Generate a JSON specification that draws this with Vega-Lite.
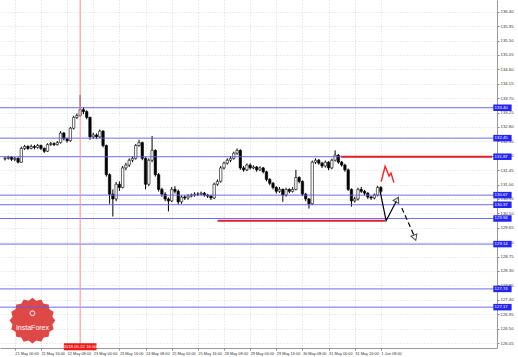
{
  "$schema": "https://vega.github.io/schema/vega-lite/v6.json",
  "width": 497,
  "height": 348,
  "autosize": {"type": "none"},
  "padding": {"left": 0, "top": 0, "right": 21, "bottom": 9},
  "background": "white",
  "config": {"view": {"stroke": null}, "font": "Liberation Sans"},
  "data": {"values": [{}]},
  "resolve": {"axis": {"x": "independent", "y": "independent"}},
  "datasets": {
    "candles": [
      {"t":-6,"o":131.80,"c":131.82,"hi":131.88,"lo":131.75},
      {"t":-4,"o":131.82,"c":131.85,"hi":131.90,"lo":131.78},
      {"t":-2,"o":131.85,"c":131.79,"hi":131.89,"lo":131.74},
      {"t":0,"o":131.79,"c":131.82,"hi":131.86,"lo":131.73},
      {"t":2,"o":131.82,"c":131.70,"hi":131.85,"lo":131.66},
      {"t":4,"o":131.70,"c":132.13,"hi":132.18,"lo":131.68},
      {"t":6,"o":132.13,"c":132.19,"hi":132.24,"lo":132.08},
      {"t":8,"o":132.19,"c":132.13,"hi":132.23,"lo":132.08},
      {"t":10,"o":132.13,"c":132.19,"hi":132.25,"lo":132.10},
      {"t":12,"o":132.19,"c":132.16,"hi":132.24,"lo":132.10},
      {"t":14,"o":132.16,"c":132.22,"hi":132.27,"lo":132.12},
      {"t":16,"o":132.22,"c":132.13,"hi":132.25,"lo":132.08},
      {"t":18,"o":132.13,"c":132.04,"hi":132.16,"lo":131.99},
      {"t":20,"o":132.04,"c":132.25,"hi":132.29,"lo":132.02},
      {"t":22,"o":132.25,"c":132.28,"hi":132.33,"lo":132.21},
      {"t":24,"o":132.28,"c":132.25,"hi":132.32,"lo":132.20},
      {"t":26,"o":132.25,"c":132.31,"hi":132.36,"lo":132.22},
      {"t":28,"o":132.31,"c":132.61,"hi":132.67,"lo":132.28},
      {"t":30,"o":132.61,"c":132.43,"hi":132.64,"lo":132.38},
      {"t":32,"o":132.43,"c":132.37,"hi":132.47,"lo":132.31},
      {"t":34,"o":132.37,"c":132.76,"hi":132.80,"lo":132.34},
      {"t":36,"o":132.76,"c":133.10,"hi":133.15,"lo":132.72},
      {"t":38,"o":133.10,"c":133.16,"hi":133.22,"lo":133.05},
      {"t":40,"o":133.16,"c":133.34,"hi":133.80,"lo":133.12},
      {"t":42,"o":133.34,"c":133.28,"hi":133.42,"lo":133.20},
      {"t":44,"o":133.28,"c":133.10,"hi":133.32,"lo":133.04},
      {"t":46,"o":133.10,"c":132.49,"hi":133.12,"lo":132.40},
      {"t":48,"o":132.49,"c":132.55,"hi":132.62,"lo":132.43},
      {"t":50,"o":132.55,"c":132.49,"hi":132.60,"lo":132.42},
      {"t":52,"o":132.49,"c":132.67,"hi":132.72,"lo":132.45},
      {"t":54,"o":132.67,"c":132.22,"hi":132.70,"lo":132.16},
      {"t":56,"o":132.22,"c":131.31,"hi":132.25,"lo":131.25},
      {"t":58,"o":131.31,"c":130.70,"hi":131.35,"lo":130.40},
      {"t":60,"o":130.70,"c":130.55,"hi":130.85,"lo":130.00},
      {"t":62,"o":130.55,"c":131.01,"hi":131.08,"lo":130.48},
      {"t":64,"o":131.01,"c":130.91,"hi":131.10,"lo":130.80},
      {"t":66,"o":130.91,"c":131.52,"hi":131.58,"lo":130.88},
      {"t":68,"o":131.52,"c":131.61,"hi":131.68,"lo":131.45},
      {"t":70,"o":131.61,"c":131.76,"hi":131.82,"lo":131.55},
      {"t":72,"o":131.76,"c":131.82,"hi":131.88,"lo":131.70},
      {"t":74,"o":131.82,"c":132.22,"hi":132.27,"lo":131.78},
      {"t":76,"o":132.22,"c":132.31,"hi":132.40,"lo":132.18},
      {"t":78,"o":132.31,"c":131.82,"hi":132.34,"lo":131.76},
      {"t":80,"o":131.82,"c":131.01,"hi":131.85,"lo":130.85},
      {"t":82,"o":131.01,"c":131.76,"hi":131.82,"lo":130.95},
      {"t":84,"o":131.76,"c":132.07,"hi":132.52,"lo":131.70},
      {"t":86,"o":132.07,"c":131.31,"hi":132.10,"lo":131.25},
      {"t":88,"o":131.31,"c":130.85,"hi":131.36,"lo":130.78},
      {"t":90,"o":130.85,"c":130.70,"hi":130.90,"lo":130.62},
      {"t":92,"o":130.70,"c":130.55,"hi":130.76,"lo":130.48},
      {"t":94,"o":130.55,"c":130.49,"hi":130.60,"lo":130.16},
      {"t":96,"o":130.49,"c":130.85,"hi":130.92,"lo":130.45},
      {"t":98,"o":130.85,"c":130.79,"hi":130.95,"lo":130.72},
      {"t":100,"o":130.79,"c":130.46,"hi":130.84,"lo":130.38},
      {"t":102,"o":130.46,"c":130.61,"hi":130.66,"lo":130.40},
      {"t":104,"o":130.61,"c":130.58,"hi":130.67,"lo":130.52},
      {"t":106,"o":130.58,"c":130.64,"hi":130.70,"lo":130.53},
      {"t":108,"o":130.64,"c":130.67,"hi":130.72,"lo":130.60},
      {"t":110,"o":130.67,"c":130.70,"hi":130.76,"lo":130.62},
      {"t":112,"o":130.70,"c":130.70,"hi":130.76,"lo":130.64},
      {"t":114,"o":130.70,"c":130.73,"hi":130.78,"lo":130.66},
      {"t":116,"o":130.73,"c":130.67,"hi":130.77,"lo":130.62},
      {"t":118,"o":130.67,"c":130.64,"hi":130.71,"lo":130.58},
      {"t":120,"o":130.64,"c":130.58,"hi":130.68,"lo":130.52},
      {"t":122,"o":130.58,"c":131.01,"hi":131.06,"lo":130.55},
      {"t":124,"o":131.01,"c":131.10,"hi":131.16,"lo":130.96},
      {"t":126,"o":131.10,"c":131.52,"hi":131.58,"lo":131.06},
      {"t":128,"o":131.52,"c":131.67,"hi":131.72,"lo":131.47},
      {"t":130,"o":131.67,"c":131.76,"hi":131.82,"lo":131.62},
      {"t":132,"o":131.76,"c":131.82,"hi":131.88,"lo":131.70},
      {"t":134,"o":131.82,"c":131.98,"hi":132.03,"lo":131.78},
      {"t":136,"o":131.98,"c":132.07,"hi":132.13,"lo":131.93},
      {"t":138,"o":132.07,"c":131.52,"hi":132.10,"lo":131.46},
      {"t":140,"o":131.52,"c":131.46,"hi":131.58,"lo":131.40},
      {"t":142,"o":131.46,"c":131.61,"hi":131.66,"lo":131.42},
      {"t":144,"o":131.61,"c":131.52,"hi":131.66,"lo":131.47},
      {"t":146,"o":131.52,"c":131.55,"hi":131.60,"lo":131.48},
      {"t":148,"o":131.55,"c":131.46,"hi":131.58,"lo":131.40},
      {"t":150,"o":131.46,"c":131.52,"hi":131.57,"lo":131.42},
      {"t":152,"o":131.52,"c":131.40,"hi":131.55,"lo":131.35},
      {"t":154,"o":131.40,"c":131.16,"hi":131.43,"lo":131.10},
      {"t":156,"o":131.16,"c":131.04,"hi":131.20,"lo":130.98},
      {"t":158,"o":131.04,"c":130.91,"hi":131.08,"lo":130.85},
      {"t":160,"o":130.91,"c":130.79,"hi":130.95,"lo":130.72},
      {"t":162,"o":130.79,"c":130.85,"hi":130.92,"lo":130.74},
      {"t":164,"o":130.85,"c":130.67,"hi":130.88,"lo":130.46},
      {"t":166,"o":130.67,"c":130.85,"hi":130.90,"lo":130.62},
      {"t":168,"o":130.85,"c":130.79,"hi":130.88,"lo":130.73},
      {"t":170,"o":130.79,"c":130.85,"hi":130.92,"lo":130.75},
      {"t":172,"o":130.85,"c":131.22,"hi":131.46,"lo":130.82},
      {"t":174,"o":131.22,"c":131.10,"hi":131.26,"lo":131.04},
      {"t":176,"o":131.10,"c":130.70,"hi":131.13,"lo":130.64},
      {"t":178,"o":130.70,"c":130.55,"hi":130.74,"lo":130.48},
      {"t":180,"o":130.55,"c":130.40,"hi":130.58,"lo":130.25},
      {"t":182,"o":130.40,"c":131.70,"hi":131.75,"lo":130.36},
      {"t":184,"o":131.70,"c":131.76,"hi":131.82,"lo":131.64},
      {"t":186,"o":131.76,"c":131.67,"hi":131.80,"lo":131.62},
      {"t":188,"o":131.67,"c":131.58,"hi":131.71,"lo":131.52},
      {"t":190,"o":131.58,"c":131.70,"hi":131.75,"lo":131.53},
      {"t":192,"o":131.70,"c":131.52,"hi":131.73,"lo":131.45},
      {"t":194,"o":131.52,"c":131.76,"hi":131.81,"lo":131.48},
      {"t":196,"o":131.76,"c":131.92,"hi":132.07,"lo":131.72},
      {"t":198,"o":131.92,"c":131.70,"hi":131.95,"lo":131.65},
      {"t":200,"o":131.70,"c":131.61,"hi":131.74,"lo":131.56},
      {"t":202,"o":131.61,"c":131.46,"hi":131.65,"lo":131.40},
      {"t":204,"o":131.46,"c":130.85,"hi":131.50,"lo":130.80},
      {"t":206,"o":130.85,"c":130.49,"hi":130.88,"lo":130.31},
      {"t":208,"o":130.49,"c":130.55,"hi":130.62,"lo":130.44},
      {"t":210,"o":130.55,"c":130.85,"hi":130.90,"lo":130.50},
      {"t":212,"o":130.85,"c":130.79,"hi":130.93,"lo":130.74},
      {"t":214,"o":130.79,"c":130.73,"hi":130.83,"lo":130.66},
      {"t":216,"o":130.73,"c":130.61,"hi":130.76,"lo":130.55},
      {"t":218,"o":130.61,"c":130.58,"hi":130.65,"lo":130.52},
      {"t":220,"o":130.58,"c":130.67,"hi":130.72,"lo":130.54},
      {"t":222,"o":130.67,"c":130.91,"hi":130.96,"lo":130.63},
      {"t":224,"o":130.91,"c":130.79,"hi":130.95,"lo":130.74}
    ],
    "levels": [
      {"p":133.40},{"p":132.45},{"p":131.87},{"p":130.67},{"p":130.37},
      {"p":129.94},{"p":129.14},{"p":127.74},{"p":127.17}
    ],
    "redsegs": [
      {"t":199.7,"t2":292,"p":131.87},
      {"t":124.1,"t2":226.6,"p":129.87}
    ],
    "drawings": [
      {"g":"redN","i":0,"t":224.2,"p":131.09},
      {"g":"redN","i":1,"t":226.6,"p":131.57},
      {"g":"redN","i":2,"t":229.0,"p":131.27},
      {"g":"redN","i":3,"t":230.2,"p":131.36},
      {"g":"redN","i":4,"t":232.0,"p":131.06},
      {"g":"solid","i":0,"t":223.6,"p":130.78},
      {"g":"solid","i":1,"t":227.2,"p":129.87},
      {"g":"solid","i":2,"t":234.4,"p":130.57},
      {"g":"dashed","i":0,"t":236.8,"p":130.27},
      {"g":"dashed","i":1,"t":244.2,"p":129.42}
    ]
  },
  "layer": [
    {
      "data": {"name": "candles"},
      "mark": {"type": "rule", "color": "black", "strokeWidth": 1},
      "encoding": {
        "x": {"field": "t", "type": "quantitative",
          "scale": {"domain": [-6, 292], "nice": false, "zero": false},
          "axis": {"title": null, "orient": "bottom",
            "values": [0,16,32,48,64,80,96,112,128,144,160,176,192,208,224],
            "labelExpr": "['21 May 00:00','21 May 16:00','22 May 08:00','23 May 00:00','23 May 16:00','24 May 08:00','25 May 00:00','25 May 16:00','28 May 08:00','29 May 00:00','29 May 16:00','30 May 08:00','31 May 00:00','31 May 16:00','1 Jun 08:00'][round(datum.value/16)]",
            "labelAlign": "left", "labelFontSize": 3.9, "labelColor": "#333", "labelPadding": 1.5,
            "labelOverlap": false, "labelFlush": false, "labelBound": false,
            "tickSize": 2, "tickColor": "#888", "domainColor": "#999",
            "grid": true, "gridColor": "#cfcfcf", "gridDash": [1, 2], "gridWidth": 0.8}},
        "y": {"field": "lo", "type": "quantitative",
          "scale": {"domain": [126.05, 136.61], "nice": false, "zero": false},
          "axis": {"title": null, "orient": "right",
            "values": [126.05,126.50,126.95,127.40,127.85,128.30,128.75,129.20,129.65,130.10,130.55,131.00,131.45,131.90,132.35,132.80,133.25,133.70,134.15,134.60,135.05,135.50,135.95,136.40],
            "format": ".2f", "labelAlign": "left", "labelFontSize": 4.3, "labelColor": "#333", "labelPadding": 1,
            "labelOverlap": false, "labelFlush": false, "labelBound": false,
            "tickSize": 2, "tickColor": "#888", "domainColor": "#999",
            "grid": true, "gridColor": "#cfcfcf", "gridDash": [1, 2], "gridWidth": 0.8}},
        "y2": {"field": "hi"}
      }
    },
    {
      "data": {"name": "candles"},
      "mark": {"type": "bar", "size": 2.4, "stroke": "black", "strokeWidth": 0.6},
      "encoding": {
        "x": {"field": "t", "type": "quantitative", "axis": null},
        "y": {"field": "o", "type": "quantitative", "axis": null},
        "y2": {"field": "c"},
        "fill": {"condition": {"test": "datum.c >= datum.o", "value": "white"}, "value": "black"}
      }
    },
    {
      "mark": {"type": "point", "shape": "M1,0L0.87,0.17L0.924,0.383L0.74,0.49L0.707,0.707L0.49,0.74L0.383,0.924L0.17,0.87L0,1L-0.17,0.87L-0.383,0.924L-0.49,0.74L-0.707,0.707L-0.74,0.49L-0.924,0.383L-0.87,0.17L-1,0L-0.87,-0.17L-0.924,-0.383L-0.74,-0.49L-0.707,-0.707L-0.49,-0.74L-0.383,-0.924L-0.17,-0.87L0,-1L0.17,-0.87L0.383,-0.924L0.49,-0.74L0.707,-0.707L0.74,-0.49L0.924,-0.383L0.87,-0.17Z",
        "size": 2100, "filled": true, "fill": "#d9302e", "opacity": 0.88, "strokeWidth": 0},
      "encoding": {
        "x": {"datum": 10.8, "type": "quantitative", "axis": null},
        "y": {"datum": 126.75, "type": "quantitative", "axis": null}
      }
    },
    {
      "mark": {"type": "point", "shape": "circle", "size": 22, "filled": false, "stroke": "white", "strokeWidth": 1.2},
      "encoding": {
        "x": {"datum": 10.8, "type": "quantitative", "axis": null},
        "y": {"datum": 126.98, "type": "quantitative", "axis": null}
      }
    },
    {
      "mark": {"type": "text", "text": "InstaForex", "fontSize": 7, "color": "white", "align": "center", "baseline": "middle"},
      "encoding": {
        "x": {"datum": 10.8, "type": "quantitative", "axis": null},
        "y": {"datum": 126.52, "type": "quantitative", "axis": null}
      }
    },
    {
      "data": {"name": "levels"},
      "mark": {"type": "rule", "color": "#5c5cf2", "strokeWidth": 1, "opacity": 0.9},
      "encoding": {
        "y": {"field": "p", "type": "quantitative", "axis": null}
      }
    },
    {
      "mark": {"type": "rule", "color": "#ff8c8c", "strokeWidth": 1},
      "encoding": {
        "x": {"datum": 40, "type": "quantitative", "axis": null}
      }
    },
    {
      "data": {"name": "redsegs"},
      "mark": {"type": "rule", "color": "#e3202a", "strokeWidth": 2},
      "encoding": {
        "x": {"field": "t", "type": "quantitative", "axis": null},
        "x2": {"field": "t2"},
        "y": {"field": "p", "type": "quantitative", "axis": null}
      }
    },
    {
      "data": {"name": "drawings"},
      "transform": [{"filter": "datum.g == 'redN'"}],
      "mark": {"type": "line", "color": "#ff1f1f", "strokeWidth": 1.4},
      "encoding": {
        "x": {"field": "t", "type": "quantitative", "axis": null},
        "y": {"field": "p", "type": "quantitative", "axis": null},
        "order": {"field": "i"}
      }
    },
    {
      "data": {"name": "drawings"},
      "transform": [{"filter": "datum.g == 'solid'"}],
      "mark": {"type": "line", "color": "black", "strokeWidth": 1.2},
      "encoding": {
        "x": {"field": "t", "type": "quantitative", "axis": null},
        "y": {"field": "p", "type": "quantitative", "axis": null},
        "order": {"field": "i"}
      }
    },
    {
      "data": {"name": "drawings"},
      "transform": [{"filter": "datum.g == 'dashed'"}],
      "mark": {"type": "line", "color": "black", "strokeWidth": 1.2, "strokeDash": [5, 3]},
      "encoding": {
        "x": {"field": "t", "type": "quantitative", "axis": null},
        "y": {"field": "p", "type": "quantitative", "axis": null},
        "order": {"field": "i"}
      }
    },
    {
      "mark": {"type": "point", "shape": "triangle-up", "size": 40, "angle": 28, "filled": true, "fill": "white", "stroke": "black", "strokeWidth": 1},
      "encoding": {
        "x": {"datum": 234.0, "type": "quantitative", "axis": null},
        "y": {"datum": 130.53, "type": "quantitative", "axis": null}
      }
    },
    {
      "mark": {"type": "point", "shape": "triangle-up", "size": 40, "angle": 160, "filled": true, "fill": "white", "stroke": "black", "strokeWidth": 1},
      "encoding": {
        "x": {"datum": 244.8, "type": "quantitative", "axis": null},
        "y": {"datum": 129.34, "type": "quantitative", "axis": null}
      }
    },
    {
      "data": {"name": "levels"},
      "mark": {"type": "bar", "orient": "horizontal", "size": 6.5, "fill": "#2424f4", "clip": false},
      "encoding": {
        "x": {"datum": 292.8, "type": "quantitative", "axis": null},
        "x2": {"datum": 304},
        "y": {"field": "p", "type": "quantitative", "axis": null}
      }
    },
    {
      "data": {"name": "levels"},
      "mark": {"type": "text", "fontSize": 4.3, "color": "white", "align": "left", "baseline": "middle", "clip": false},
      "encoding": {
        "x": {"datum": 293.6, "type": "quantitative", "axis": null},
        "y": {"field": "p", "type": "quantitative", "axis": null},
        "text": {"field": "p", "format": ".2f"}
      }
    },
    {
      "mark": {"type": "bar", "orient": "horizontal", "size": 7, "fill": "#f01818", "clip": false},
      "encoding": {
        "x": {"datum": 30, "type": "quantitative", "axis": null},
        "x2": {"datum": 50},
        "y": {"datum": 125.93, "type": "quantitative", "axis": null}
      }
    },
    {
      "mark": {"type": "text", "text": "2018.05.22 16:00", "fontSize": 4.3, "color": "white", "align": "center", "baseline": "middle", "clip": false},
      "encoding": {
        "x": {"datum": 40, "type": "quantitative", "axis": null},
        "y": {"datum": 125.93, "type": "quantitative", "axis": null}
      }
    }
  ]
}
